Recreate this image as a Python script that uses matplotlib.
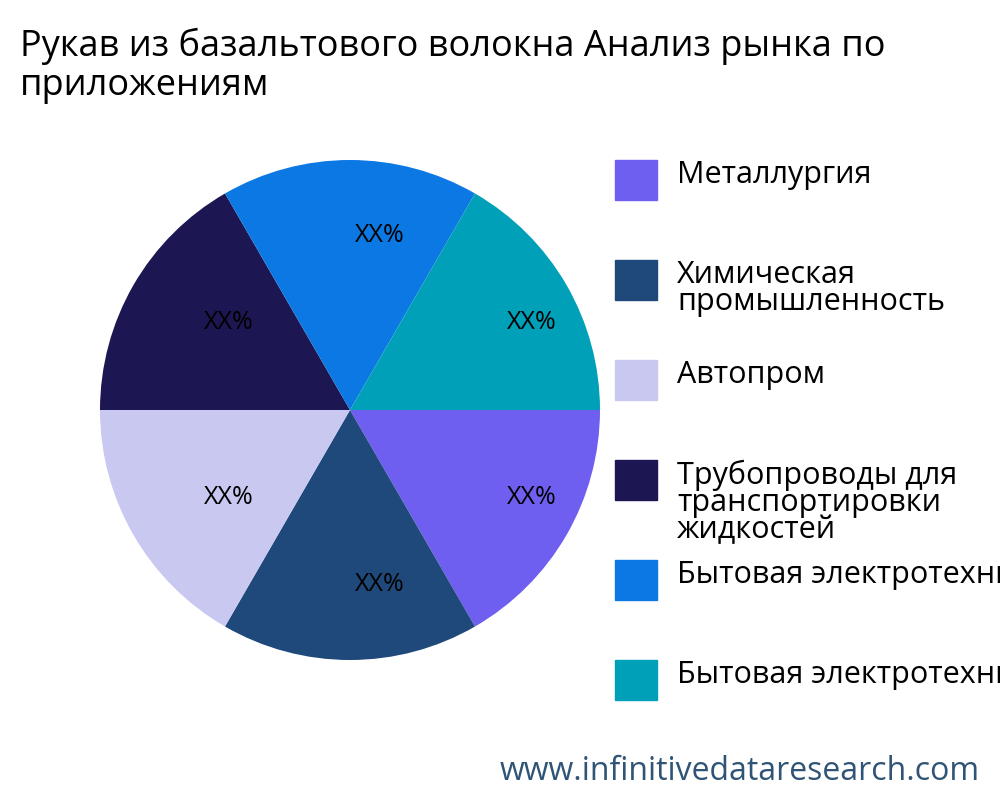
import numpy as np
import matplotlib
matplotlib.use("Agg")
import matplotlib.pyplot as plt
from matplotlib.patches import Rectangle

plt.rcParams['font.family'] = ['Open Sans', 'DejaVu Sans']

labels = ["Металлургия", "Химическая\nпромышленность", "Автопром",
          "Трубопроводы для\nтранспортировки\nжидкостей",
          "Бытовая электротехника", "Бытовая электротехника"]
values = [1, 1, 1, 1, 1, 1]
pct_labels = ["XX%"] * 6
colors = ["#6F5FF0", "#1F497A", "#C8C8F0", "#1C1752", "#0B78E3", "#00A0B8"]

fig = plt.figure(figsize=(10, 8), dpi=100)
ax = fig.add_axes([0.1, 0.175, 0.5, 0.625])
wedges, texts = ax.pie(values, colors=colors, startangle=0, counterclock=False,
                       radius=1.0)
for w, lab in zip(wedges, pct_labels):
    ang = np.deg2rad((w.theta1 + w.theta2) / 2)
    ax.text(0.7 * np.cos(ang) + 0.12, 0.7 * np.sin(ang), lab, ha="center",
            va="center", fontsize=18, color="black")
ax.set_xlim(-1, 1)
ax.set_ylim(-1, 1)
ax.set_aspect("equal")

fig.text(0.02, 0.965, "Рукав из базальтового волокна Анализ рынка по\nприложениям",
         fontsize=26, va="top", ha="left", linespacing=1.1)

H = 800
for i, (lab, c) in enumerate(zip(labels, colors)):
    yc = 180 + 100 * i
    fig.patches.append(Rectangle((615 / 1000, 1 - (yc + 20) / H), 42 / 1000, 40 / H,
                                 transform=fig.transFigure, color=c))
    fig.text(677 / 1000, 1 - (yc - 20) / H, lab, fontsize=22, va="top",
             ha="left", linespacing=0.87, clip_on=False)

fig.text(0.98, 0.035, "www.infinitivedataresearch.com", fontsize=23,
         color="#2F5475", ha="right", va="center")

fig.savefig("out.png", dpi=100)
